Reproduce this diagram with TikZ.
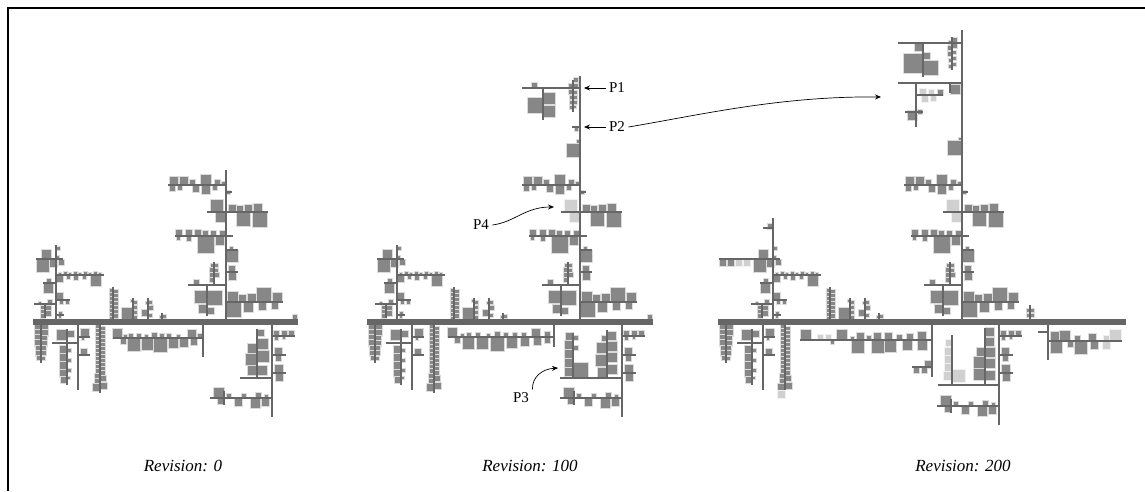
\documentclass[tikz,border=0pt]{standalone}
\usepackage{fontspec}
\setmainfont{Liberation Serif}
\usetikzlibrary{arrows.meta}
\definecolor{leafGray}{HTML}{878787}
\definecolor{newGray}{HTML}{D0D0D0}
\definecolor{stemGray}{HTML}{666666}

\tikzset{
  leaf/.style={fill=leafGray, draw=white!70!leafGray, line width=0.2pt},
  newleaf/.style={fill=newGray, draw=white!70!newGray, line width=0.2pt},
  stem/.style={draw=stemGray, line width=2.2pt},
  trunk/.style={draw=stemGray, line width=6pt},
  revlabel/.style={font=\fontsize{17}{20}\selectfont\itshape},
  plabel/.style={font=\fontsize{15}{18}\selectfont},
  pointer/.style={-{Stealth[length=6pt,width=5pt]}, line width=0.7pt}
}

% Blaetter an Aesten: ueber / unter einem waagrechten Ast, links / rechts eines senkrechten
\newcommand{\lfup}[3][leaf]{\foreach \x/\s in {#3}{\fill[#1] (\x-\s/2,#2) rectangle ++(\s,-\s);}}
\newcommand{\lfdn}[3][leaf]{\foreach \x/\s in {#3}{\fill[#1] (\x-\s/2,#2) rectangle ++(\s,\s);}}
\newcommand{\lflt}[3][leaf]{\foreach \y/\s in {#3}{\fill[#1] (#2-\s,\y-\s/2) rectangle ++(\s,\s);}}
\newcommand{\lfrt}[3][leaf]{\foreach \y/\s in {#3}{\fill[#1] (#2,\y-\s/2) rectangle ++(\s,\s);}}

% linker Teil oberhalb des Stamms
\newcommand{\upleft}{%
  \lfup{259}{46/10, 57/4}
  \lfdn{259}{43/13, 53/8, 61/6}
  \lfup{275}{60/3, 65/4, 70/3, 75/4, 80/3, 85/4, 90/3, 95/4, 100/3}
  \lfdn{275}{60/7, 68/4, 76/5, 84/4, 96/11}
  \lfup{283}{49/5}
  \lfdn{283}{48/10}
  \lfrt{56}{296/7}
  \lfdn{300}{61/4, 67/4}
  \lfup{304}{50/5, 40/3}
  \lflt{45}{308/5, 312/5, 316/5}
  \lfrt{45}{308/6, 313/6}
  \lfup{315}{60/4}
  \lfdn{315}{60/3}
  \lfrt{56}{248/4}
  \lflt{113}{290/4, 294/4, 298/4, 302/4, 306/4, 310/4, 314/4, 318/4}
  \lfrt{113}{292/5, 296/5, 300/5, 304/5, 308/5, 312/5, 316/5}
  \lflt{133}{313/12, 301/3}
  \lfrt{133}{302/4, 307/4, 312/4, 317/4}
  \lflt{148}{313/7, 303/3}
  \lfrt{148}{302/4, 308/5, 315/4}
  \lflt{162}{317/3}
  \lfrt{162}{316/4}
  \draw[stem] (56,245) -- (56,322) (36,259) -- (63,259) (56,275) -- (104,275)
    (43,283) -- (56,283) (56,300) -- (70,300) (34,304) -- (56,304) (45,304) -- (45,318)
    (56,315) -- (64,315) (113,287) -- (113,322) (133,298) -- (133,322)
    (148,298) -- (148,322) (162,313) -- (162,322);
}

% linker Teil unterhalb des Stamms
\newcommand{\lowleft}{%
  \lflt{41}{328/7, 333/7, 338/7, 343/7, 348/6, 353/6, 358/5}
  \lfrt{41}{328/7, 333/7, 338/6, 343/6, 348/5, 353/5, 358/4}
  \lflt{67}{335/11, 349/8, 357/8, 365/8, 373/8, 380/7}
  \lfrt{67}{334/7, 350/4, 360/4, 370/4, 378/3}
  \lfup{337}{85/9}
  \lfdn{337}{83/3}
  \lfup{355}{84/7}
  \lflt{100}{327/5, 331/5, 335/5, 339/5, 343/5, 347/5, 351/5, 355/5, 359/5, 363/5, 367/5, 371/5, 376/6, 381/6, 387/8}
  \lfrt{100}{329/5, 333/5, 337/5, 341/5, 345/5, 349/5, 353/5, 357/5, 361/5, 365/5, 369/5, 373/5, 378/6, 386/7}
  \draw[stem] (41,322) -- (41,363) (67,329) -- (67,385) (52,343) -- (78,343)
    (78,322) -- (78,390) (78,337) -- (90,337) (78,355) -- (90,355) (100,322) -- (100,393);
}

% Hauptast (unterer Teil), #1 = Farbe der Blaetter bei P4
\newcommand{\mainbranch}[1]{%
  \lfup{185}{174/9, 184/9, 192/6, 206/11, 217/6, 223/4}
  \lfdn{185}{172/6, 180/5, 196/7, 206/9, 215/5}
  \lfrt{226}{192/4}
  \lfup[#1]{212}{217/13}
  \lfdn[#1]{212}{220/10}
  \lfup{212}{232/8, 240/7, 248/8, 258/9}
  \lfdn{212}{243/14, 260/15}
  \lfup{236}{179/7, 189/7, 198/7, 205/6, 213/6, 222/6}
  \lfdn{236}{178/4, 189/5, 206/17, 220/9}
  \lfup{250}{231/4}
  \lfdn{250}{232/12}
  \lfup{272}{232/7}
  \lfdn{272}{232/8}
  \lfup{285}{196/6}
  \lflt{207}{297/13, 309/9}
  \lfrt{207}{298/15, 311/7}
  \lflt{214}{265/4, 270/5, 275/5, 280/5}
  \lfrt{214}{265/4, 270/4, 275/5}
  \lfup{302}{233/11, 242/8, 252/9, 264/15, 277/10}
  \lfdn{302}{234/15, 248/10, 262/8, 275/7}
  \draw[stem] (168,185) -- (226,185) (226,192) -- (232,192) (207,212) -- (268,212)
    (175,236) -- (233,236) (226,250) -- (238,250) (226,272) -- (238,272)
    (188,285) -- (226,285) (207,285) -- (207,316) (214,262) -- (214,285) (226,302) -- (283,302);
}

% Ast rechts unten, #1 = Hoehe des untersten Zweigs
\newcommand{\downright}[1]{%
  \lfup{336}{276/6, 284/6, 291/6}
  \lfdn{336}{276/4, 284/3}
  \lfup{355}{278/8}
  \lfdn{355}{278/6}
  \lfup{373}{279/9}
  \lfdn{373}{279/8}
  \lfup{#1}{219/11, 229/5, 244/5, 258/6, 266/4}
  \lfdn{#1}{220/6, 238/8, 255/10, 265/8}
  \draw[stem] (272,322) -- (272,#1+19) (272,336) -- (295,336) (272,355) -- (286,355)
    (272,373) -- (286,373) (210,#1) -- (272,#1) (224,#1-7) -- (224,#1+7);
}

\begin{document}
\begin{tikzpicture}[x=1pt, y=-1pt]
\useasboundingbox (0,0) rectangle (1145,491);
% Rahmen
\draw[line width=1.2pt] (8,491) -- (8,8) -- (1145,8);

% Revision 0
\upleft
\lowleft
\mainbranch{leaf}
\downright{398}
\lfup{338}{117/10, 125/4, 131/5, 139/5, 146/4, 154/6, 162/5, 169/5, 178/4, 192/9, 200/5}
\lfdn{338}{123/6, 134/13, 147/12, 160/14, 173/10, 184/9, 194/7}
\lflt{257}{348/10, 359/12, 370/10}
\lfrt{257}{333/7, 344/11, 356/12, 370/10}
\lfup{319}{295/5}
\draw[stem] (113,338) -- (203,338) (203,322) -- (203,357) (240,378) -- (272,378)
  (257,329) -- (257,378) (226,170) -- (226,322);
\draw[trunk] (33,322) -- (298,322);

% Revision 100
\begin{scope}[xshift=341pt] \upleft \end{scope}
\begin{scope}[xshift=334pt] \lowleft \end{scope}
\begin{scope}[xshift=354pt] \mainbranch{newleaf} \end{scope}
\begin{scope}[xshift=350pt] \downright{398} \end{scope}
\lfup{337}{452/10, 462/4, 469/5, 478/5, 488/4, 497/6, 506/5, 515/5, 524/5, 536/9, 547/6}
\lfdn{337}{457/6, 468/12, 482/12, 497/14, 512/11, 525/9, 537/8, 547/6}
\lflt{573}{336/8, 345/9, 354/9, 363/9, 372/9}
\lfrt{573}{338/5, 348/5, 370/15}
\lflt{607}{338/6, 348/11, 360/12, 372/10}
\lfrt{607}{336/9, 346/10, 357/10, 369/10}
\lflt{543}{105/16}
\lfrt{543}{98/12, 111/12}
\lfup{88}{534/6}
\lflt{573}{86/5, 92/5, 97/4, 102/4, 107/4}
\lfrt{573}{80/5, 86/5, 92/4, 97/4, 102/4, 107/3}
\lfdn{127}{576/4}
\lflt{580}{141/4, 150/14}
\lfup{319}{650/5}
\draw[stem] (448,337) -- (554,337) (554,322) -- (554,347) (560,378) -- (622,378)
  (573,333) -- (573,378) (607,330) -- (607,378)
  (580,76) -- (580,322) (522,88) -- (580,88) (543,88) -- (543,120) (573,80) -- (573,112)
  (572,127) -- (580,127);
\draw[trunk] (367,322) -- (653,322);

% Revision 200
\begin{scope}[xshift=717pt] \upleft \end{scope}
\lfdn{259}{723/7, 731/7}
\lfdn[newleaf]{259}{739/7, 747/7}
\lflt{773}{226/6}
\draw[stem] (719,259) -- (754,259) (773,218) -- (773,246) (763,228) -- (773,228);
\begin{scope}[xshift=685pt] \lowleft \end{scope}
\lflt[newleaf]{785}{394/8}
\begin{scope}[xshift=736pt] \mainbranch{newleaf} \end{scope}
\begin{scope}[xshift=727pt] \downright{406} \end{scope}
\lfup{340}{806/11}
\lfup[newleaf]{340}{820/6, 828/6}
\lfup{340}{842/11, 852/4, 860/8, 869/5, 877/8, 888/8, 899/6, 910/7, 922/9}
\lfdn{340}{832/4, 858/13, 878/13, 890/12, 907/10, 922/10}
\lflt{932}{364/8}
\lfdn{367}{916/6, 924/6}
\lflt[newleaf]{952}{343/7, 351/8, 359/8, 367/8, 376/9}
\lfrt[newleaf]{952}{376/13}
\lflt{985}{352/9, 362/12, 374/12}
\lfrt{985}{332/9, 342/9, 352/10, 363/10, 375/10}
\lfup{341}{1055/10, 1065/11, 1077/6, 1092/8}
\lfup[newleaf]{341}{1106/6, 1115/12}
\lfdn{341}{1056/12, 1070/6, 1081/13, 1094/8}
\lfdn[newleaf]{341}{1106/8}
\lflt{1030}{310/4, 315/4}
\lfrt{1030}{310/4, 315/4}
% oberer Teil
\lflt{923}{63/20}
\lfrt{923}{68/15, 56/7}
\lfdn{43}{918/8}
\lflt{952}{42/4, 48/5, 54/5, 60/4, 66/4}
\lfrt{952}{40/5, 46/5, 52/4, 58/4, 64/4}
\lfup[newleaf]{95}{923/7, 931/6}
\lfdn[newleaf]{95}{925/7, 933/6}
\lfup{95}{940/6}
\lflt{917}{115/10}
\lfrt{917}{112/5}
\lflt{960}{89/10}
\lflt{962}{139/4, 148/15}
\draw[stem] (800,340) -- (932,340) (932,322) -- (932,377) (912,367) -- (932,367)
  (938,385) -- (999,385) (952,335) -- (952,385) (985,328) -- (985,385)
  (1048,325) -- (1048,360) (1048,341) -- (1122,341) (1038,332) -- (1048,332)
  (1030,305) -- (1030,322)
  (962,30) -- (962,322) (898,43) -- (962,43) (923,43) -- (923,77) (952,37) -- (952,70)
  (898,83) -- (962,83) (916,83) -- (916,127) (916,95) -- (943,95) (905,112) -- (923,112)
  (950,83) -- (950,93);
\draw[trunk] (718,322) -- (1126,322);

% Markierungen
\node[plabel] (p1) at (617,88) {P1};
\coordinate (p1tip) at (584,88);
\draw[pointer] (p1) -- (p1tip);
\node[plabel] (p2) at (617,127) {P2};
\coordinate (p2tip) at (584,127);
\draw[pointer] (p2) -- (p2tip);
\coordinate (p2far) at (881,97);
\draw[pointer] (p2.east) .. controls (700,115) and (780,96) .. (p2far);
\node[plabel] (p4) at (481,225) {P4};
\coordinate (p4tip) at (554,207);
\draw[pointer] (p4.east) .. controls (515,222) and (525,207) .. (p4tip);
\node[plabel] (p3) at (521,398) {P3};
\coordinate (p3tip) at (558,368);
\draw[pointer] (p3.north east) .. controls (532,377) and (542,369) .. (p3tip);

% Beschriftungen
\node[revlabel] (rev0) at (183,466) {Revision: 0};
\node[revlabel] (rev100) at (530,466) {Revision: 100};
\node[revlabel] (rev200) at (963,466) {Revision: 200};
\end{tikzpicture}
\end{document}
